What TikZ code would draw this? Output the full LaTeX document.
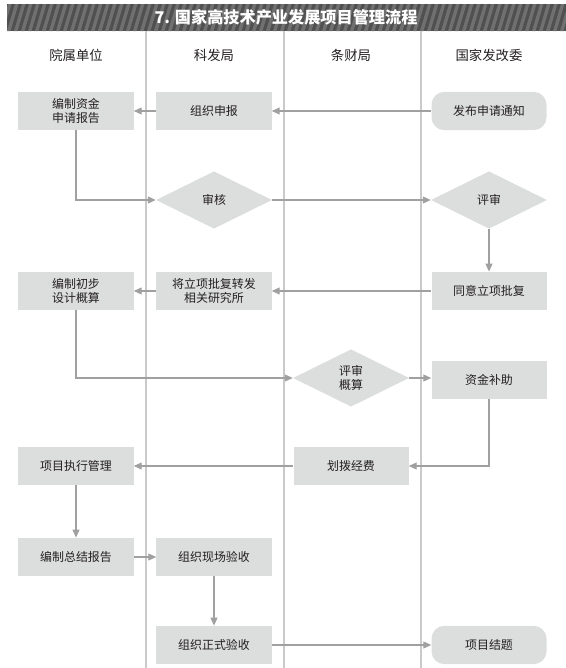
\documentclass[tikz,border=0pt]{standalone}
\usepackage{fontspec}
\setmainfont{Noto Sans CJK SC}
\usepackage{tikz}
\usetikzlibrary{arrows.meta,positioning,shapes.geometric}
\definecolor{boxgray}{RGB}{220,221,221}
\definecolor{lanegray}{RGB}{201,202,202}
\definecolor{linegray}{RGB}{160,160,160}
\definecolor{bardark}{RGB}{80,80,80}
\definecolor{barlight}{RGB}{112,112,112}
\definecolor{inkdark}{RGB}{35,31,32}
\tikzset{
  task/.style={fill=boxgray,minimum width=3.45cm,minimum height=1.15cm,inner sep=1pt,align=center,text=inkdark,font=\fontsize{10.2}{12.5}\selectfont},
  term/.style={task,rounded corners=11pt},
  check/.style={diamond,aspect=2,fill=boxgray,minimum width=3.48cm,minimum height=1.72cm,inner sep=0pt,align=center,text=inkdark,font=\fontsize{10.2}{12.5}\selectfont},
  head/.style={text=inkdark,font=\fontsize{11.4}{13}\selectfont},
  lane/.style={draw=lanegray,line width=1.1pt},
  flow/.style={-{Triangle[length=2.4mm,width=2.1mm]},draw=linegray,line width=0.9pt}
}

\begin{document}
\begin{tikzpicture}[x=0.03cm,y=-0.03cm]
\useasboundingbox (0,0) rectangle (566,668);
% title bar
\begin{scope}
\clip (7,4) rectangle (566,31);
\fill[bardark] (7,4) rectangle (566,31);
\foreach \i in {0,7,...,580}
  \fill[barlight] (\i,31) -- (\i+3.5,31) -- (\i+11.5,4) -- (\i+8,4) -- cycle;
\end{scope}
\node[text=white,font=\fontsize{13.8}{16}\selectfont\bfseries] (title) at (286,17.5) {7. 国家高技术产业发展项目管理流程};
% lanes
\draw[lane] (146,31) -- (146,668);
\draw[lane] (284,31) -- (284,668);
\draw[lane] (421,31) -- (421,668);
\node[head] (h1) at (76,55) {院属单位};
\node[head] (h2) at (214,55) {科发局};
\node[head] (h3) at (351,55) {条财局};
\node[head] (h4) at (489,55) {国家发改委};
% row 1
\node[task] (zj) at (76,111) {编制资金\\申请报告};
\node[task] (zs) at (214,111) {组织申报};
\node[term] (fb) at (489,111) {发布申请通知};
% row 2
\node[check] (sh) at (214,200) {审核};
\node[check] (ps) at (489,200) {评审};
% row 3
\node[task] (cb) at (76,291) {编制初步\\设计概算};
\node[task] (zf) at (214,291) {将立项批复转发\\相关研究所};
\node[task] (ty) at (489,291) {同意立项批复};
% row 4
\node[check] (gs) at (351,378) {评审\\概算};
\node[task] (zb) at (489,380) {资金补助};
% row 5
\node[task] (zx) at (76,466) {项目执行管理};
\node[task] (bf) at (351,466) {划拨经费};
% row 6
\node[task] (zr) at (76,557) {编制总结报告};
\node[task] (xc) at (214,557) {组织现场验收};
% row 7
\node[task] (zs2) at (214,645) {组织正式验收};
\node[term] (jt) at (489,645) {项目结题};
% flows
\draw[flow] (fb) -- (zs);
\draw[flow] (zs) -- (zj);
\draw[flow] (zj.south) |- (sh.west);
\draw[flow] (sh) -- (ps);
\draw[flow] (ps) -- (ty);
\draw[flow] (ty) -- (zf);
\draw[flow] (zf) -- (cb);
\draw[flow] (cb.south) |- (gs.west);
\draw[flow] (gs.east) -- (gs.east -| zb.west);
\draw[flow] (zb.south) |- (bf.east);
\draw[flow] (bf) -- (zx);
\draw[flow] (zx) -- (zr);
\draw[flow] (zr) -- (xc);
\draw[flow] (xc) -- (zs2);
\draw[flow] (zs2) -- (jt);
\end{tikzpicture}
\end{document}
